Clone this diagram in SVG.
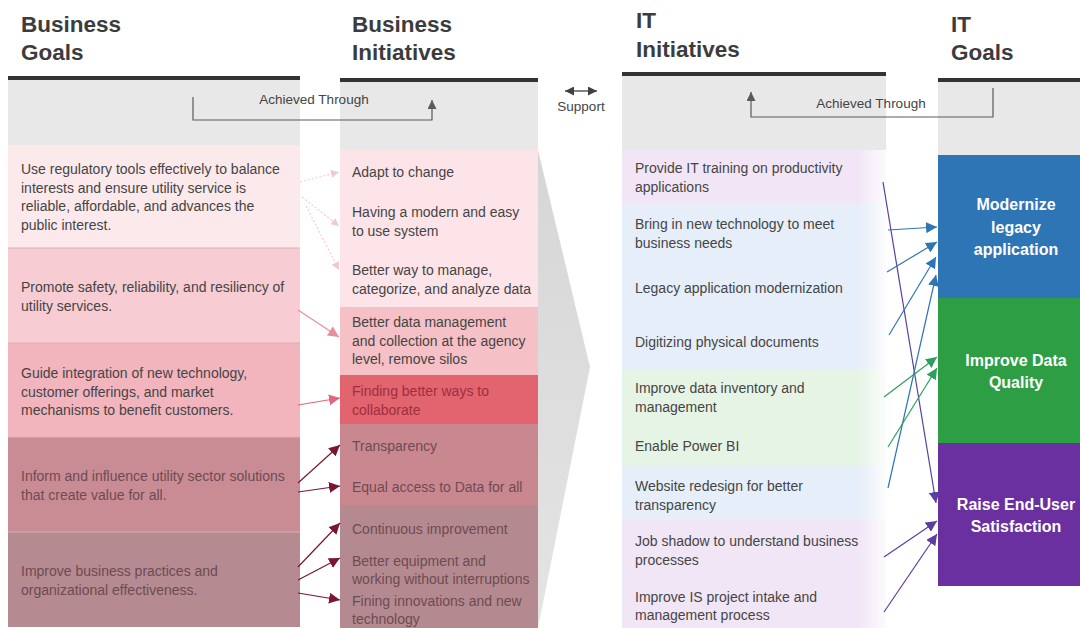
<svg xmlns="http://www.w3.org/2000/svg" width="1080" height="628" viewBox="0 0 1080 628">
<defs>
<style>
.h{font-family:"Liberation Sans",Arial,sans-serif;font-size:22.5px;font-weight:bold;fill:#3c3c3c}
.t{font-family:"Liberation Sans",Arial,sans-serif;font-size:14px;fill:#454545}
.s{font-family:"Liberation Sans",Arial,sans-serif;font-size:13.5px;fill:#444}
.g{font-family:"Liberation Sans",Arial,sans-serif;font-size:16px;font-weight:bold;fill:#fff;text-anchor:middle}
.bar{fill:#333}
.hd{fill:#e8e8e8}
.dk{fill:#6e4b53}
.rd{fill:#9e2f3d}
.br{fill:none;stroke:#5a5a5a;stroke-width:1.2}
.cl{fill:none;stroke-width:1.2}
</style>
<marker id="aBr" viewBox="0 0 10 10" refX="10" refY="5" markerWidth="9" markerHeight="9" markerUnits="userSpaceOnUse" orient="auto"><path d="M0,0L10,5L0,10z" fill="#5a5a5a"/></marker>
<marker id="aLp" viewBox="0 0 10 10" refX="10" refY="5" markerWidth="8" markerHeight="8" markerUnits="userSpaceOnUse" orient="auto"><path d="M0,0L10,5L0,10z" fill="#f4c8d0"/></marker>
<marker id="aPk" viewBox="0 0 10 10" refX="10" refY="5" markerWidth="11" markerHeight="11" markerUnits="userSpaceOnUse" orient="auto"><path d="M0,0L10,5L0,10z" fill="#e68e9e"/></marker>
<marker id="aRd" viewBox="0 0 10 10" refX="10" refY="5" markerWidth="11" markerHeight="11" markerUnits="userSpaceOnUse" orient="auto"><path d="M0,0L10,5L0,10z" fill="#e0667a"/></marker>
<marker id="aMr" viewBox="0 0 10 10" refX="10" refY="5" markerWidth="11" markerHeight="11" markerUnits="userSpaceOnUse" orient="auto"><path d="M0,0L10,5L0,10z" fill="#7a1630"/></marker>
<marker id="aBl" viewBox="0 0 10 10" refX="10" refY="5" markerWidth="11" markerHeight="11" markerUnits="userSpaceOnUse" orient="auto"><path d="M0,0L10,5L0,10z" fill="#2e75b6"/></marker>
<marker id="aGr" viewBox="0 0 10 10" refX="10" refY="5" markerWidth="11" markerHeight="11" markerUnits="userSpaceOnUse" orient="auto"><path d="M0,0L10,5L0,10z" fill="#2f9e5e"/></marker>
<marker id="aPu" viewBox="0 0 10 10" refX="10" refY="5" markerWidth="11" markerHeight="11" markerUnits="userSpaceOnUse" orient="auto"><path d="M0,0L10,5L0,10z" fill="#5b3ea0"/></marker>
<marker id="aDa" viewBox="0 0 10 10" refX="10" refY="5" markerWidth="9" markerHeight="9" markerUnits="userSpaceOnUse" orient="auto-start-reverse"><path d="M0,0L10,5L0,10z" fill="#404040"/></marker>
<linearGradient id="fade" x1="0" y1="0" x2="1" y2="0"><stop offset="0" stop-color="#fff" stop-opacity="0"/><stop offset="1" stop-color="#fff" stop-opacity="0.85"/></linearGradient>
<linearGradient id="chev" x1="0" y1="0" x2="0" y2="1"><stop offset="0" stop-color="#d6d6d6"/><stop offset="1" stop-color="#e4e4e4"/></linearGradient>
</defs>
<rect width="1080" height="628" fill="#fff"/>

<g id="chevron"><polygon points="538,150 590,367 538,628" fill="url(#chev)"/></g>

<g id="headers">
<text class="h" x="21" y="32">Business</text><text class="h" x="21" y="60">Goals</text>
<text class="h" x="352" y="32">Business</text><text class="h" x="352" y="60">Initiatives</text>
<text class="h" x="636" y="28">IT</text><text class="h" x="636" y="57">Initiatives</text>
<text class="h" x="951" y="32">IT</text><text class="h" x="951" y="60">Goals</text>
<rect class="bar" x="8" y="76" width="292" height="4"/>
<rect class="bar" x="340" y="78" width="198" height="4"/>
<rect class="bar" x="622" y="72" width="264" height="4"/>
<rect class="bar" x="938" y="78" width="142" height="4"/>
<rect class="hd" x="8" y="80" width="292" height="65"/>
<rect class="hd" x="340" y="82" width="198" height="68"/>
<rect class="hd" x="622" y="76" width="264" height="74" fill="#ececec"/>
<rect class="hd" x="938" y="82" width="142" height="73"/>
</g>

<g id="business-goals">
<rect x="8" y="145" width="292" height="103" fill="#fbe9ec"/>
<rect x="8" y="248" width="292" height="95" fill="#f7ccd2"/>
<rect x="8" y="343" width="292" height="94" fill="#f2b4bd"/>
<rect x="8" y="437" width="292" height="95" fill="#c98c95"/>
<rect x="8" y="532" width="292" height="95" fill="#b58a90"/>
<path d="M8,248H300M8,343H300M8,437H300M8,532H300" stroke="#d8b0b6" stroke-width="1"/>
<text class="t" x="21" y="174">Use regulatory tools effectively to balance</text>
<text class="t" x="21" y="192.5">interests and ensure utility service is</text>
<text class="t" x="21" y="211">reliable, affordable, and advances the</text>
<text class="t" x="21" y="229.5">public interest.</text>
<text class="t" x="21" y="292">Promote safety, reliability, and resiliency of</text>
<text class="t" x="21" y="311">utility services.</text>
<text class="t" x="21" y="378">Guide integration of new technology,</text>
<text class="t" x="21" y="396.5">customer offerings, and market</text>
<text class="t" x="21" y="415">mechanisms to benefit customers.</text>
<text class="t dk" x="21" y="481">Inform and influence utility sector solutions</text>
<text class="t dk" x="21" y="499.5">that create value for all.</text>
<text class="t dk" x="21" y="576">Improve business practices and</text>
<text class="t dk" x="21" y="594.5">organizational effectiveness.</text>
</g>

<g id="business-initiatives">
<rect x="340" y="150" width="198" height="157" fill="#fce4e8"/>
<rect x="340" y="307" width="198" height="68" fill="#f5c0c6"/>
<rect x="340" y="375" width="198" height="49" fill="#e2646f"/>
<rect x="340" y="424" width="198" height="81" fill="#c98890"/>
<rect x="340" y="505" width="198" height="123" fill="#b48a90"/>
<text class="t" x="352" y="177">Adapt to change</text>
<text class="t" x="352" y="217">Having a modern and easy</text>
<text class="t" x="352" y="236">to use system</text>
<text class="t" x="352" y="275">Better way to manage,</text>
<text class="t" x="352" y="293.5">categorize, and analyze data</text>
<text class="t" x="352" y="327">Better data management</text>
<text class="t" x="352" y="346">and collection at the agency</text>
<text class="t" x="352" y="364">level, remove silos</text>
<text class="t rd" x="352" y="396">Finding better ways to</text>
<text class="t rd" x="352" y="415">collaborate</text>
<text class="t dk" x="352" y="451">Transparency</text>
<text class="t dk" x="352" y="492">Equal access to Data for all</text>
<text class="t dk" x="352" y="534">Continuous improvement</text>
<text class="t dk" x="352" y="566">Better equipment and</text>
<text class="t dk" x="352" y="584">working without interruptions</text>
<text class="t dk" x="352" y="606">Fining innovations and new</text>
<text class="t dk" x="352" y="624">technology</text>
</g>

<g id="support">
<line x1="565" y1="91" x2="597" y2="91" stroke="#404040" stroke-width="1.3" marker-start="url(#aDa)" marker-end="url(#aDa)"/>
<text class="s" x="581" y="111" text-anchor="middle">Support</text>
</g>

<g id="it-initiatives">
<rect x="622" y="150" width="264" height="53" fill="#f2e6f6"/>
<rect x="622" y="203" width="264" height="167" fill="#e6eef9"/>
<rect x="622" y="370" width="264" height="95" fill="#e6f4e6"/>
<rect x="622" y="465" width="264" height="55" fill="#e6eef9"/>
<rect x="622" y="520" width="264" height="108" fill="#f1e6f6"/>
<rect x="858" y="150" width="28" height="478" fill="url(#fade)"/>
<text class="t" x="635" y="173">Provide IT training on productivity</text>
<text class="t" x="635" y="192">applications</text>
<text class="t" x="635" y="229">Bring in new technology to meet</text>
<text class="t" x="635" y="247.5">business needs</text>
<text class="t" x="635" y="293">Legacy application modernization</text>
<text class="t" x="635" y="347">Digitizing physical documents</text>
<text class="t" x="635" y="393">Improve data inventory and</text>
<text class="t" x="635" y="412">management</text>
<text class="t" x="635" y="451">Enable Power BI</text>
<text class="t" x="635" y="491">Website redesign for better</text>
<text class="t" x="635" y="510">transparency</text>
<text class="t" x="635" y="546">Job shadow to understand business</text>
<text class="t" x="635" y="565">processes</text>
<text class="t" x="635" y="602">Improve IS project intake and</text>
<text class="t" x="635" y="620">management process</text>
</g>

<g id="it-goals">
<rect x="938" y="155" width="142" height="143" fill="#2e75b6"/>
<rect x="938" y="298" width="142" height="145" fill="#2e9e45"/>
<rect x="938" y="443" width="142" height="143" fill="#6a30a0"/>
<text class="g" x="1016" y="210">Modernize</text>
<text class="g" x="1016" y="232.5">legacy</text>
<text class="g" x="1016" y="255">application</text>
<text class="g" x="1016" y="365.5">Improve Data</text>
<text class="g" x="1016" y="388">Quality</text>
<text class="g" x="1016" y="509.5">Raise End-User</text>
<text class="g" x="1016" y="532">Satisfaction</text>
</g>

<g id="achieved-through">
<path class="br" d="M193,97V120H432V100" marker-end="url(#aBr)"/>
<text class="s" x="314" y="104" text-anchor="middle">Achieved Through</text>
<path class="br" d="M993,88V117H751V92" marker-end="url(#aBr)"/>
<text class="s" x="871" y="108" text-anchor="middle">Achieved Through</text>
</g>

<g id="connectors">
<line class="cl" x1="300" y1="182" x2="339" y2="172" stroke="#f4cad1" stroke-dasharray="2,2" marker-end="url(#aLp)"/>
<line class="cl" x1="302" y1="197" x2="339" y2="226" stroke="#f4cad1" stroke-dasharray="2,2" marker-end="url(#aLp)"/>
<line class="cl" x1="306" y1="206" x2="339" y2="270" stroke="#f4cad1" stroke-dasharray="2,2" marker-end="url(#aLp)"/>
<line class="cl" x1="298" y1="310" x2="339" y2="337" stroke="#e68e9e" marker-end="url(#aPk)"/>
<line class="cl" x1="298" y1="405" x2="340" y2="398" stroke="#e0667a" marker-end="url(#aRd)"/>
<line class="cl" x1="298" y1="483" x2="340" y2="445" stroke="#7a1630" marker-end="url(#aMr)"/>
<line class="cl" x1="298" y1="492" x2="340" y2="486" stroke="#7a1630" marker-end="url(#aMr)"/>
<line class="cl" x1="298" y1="567" x2="340" y2="523" stroke="#7a1630" marker-end="url(#aMr)"/>
<line class="cl" x1="298" y1="580" x2="340" y2="558" stroke="#7a1630" marker-end="url(#aMr)"/>
<line class="cl" x1="298" y1="593" x2="340" y2="600" stroke="#7a1630" marker-end="url(#aMr)"/>
<line class="cl" x1="883" y1="182" x2="936" y2="503" stroke="#5b3ea0" marker-end="url(#aPu)"/>
<line class="cl" x1="888" y1="230" x2="937" y2="227" stroke="#2e75b6" marker-end="url(#aBl)"/>
<line class="cl" x1="887" y1="272" x2="937" y2="242" stroke="#2e75b6" marker-end="url(#aBl)"/>
<line class="cl" x1="889" y1="335" x2="936" y2="257" stroke="#2e75b6" marker-end="url(#aBl)"/>
<line class="cl" x1="888" y1="488" x2="936" y2="275" stroke="#2e75b6" marker-end="url(#aBl)"/>
<line class="cl" x1="884" y1="397" x2="937" y2="357" stroke="#2f9e5e" marker-end="url(#aGr)"/>
<line class="cl" x1="888" y1="447" x2="937" y2="368" stroke="#2f9e5e" marker-end="url(#aGr)"/>
<line class="cl" x1="884" y1="557" x2="937" y2="521" stroke="#5b3ea0" marker-end="url(#aPu)"/>
<line class="cl" x1="884" y1="612" x2="937" y2="534" stroke="#5b3ea0" marker-end="url(#aPu)"/>
</g>
</svg>
